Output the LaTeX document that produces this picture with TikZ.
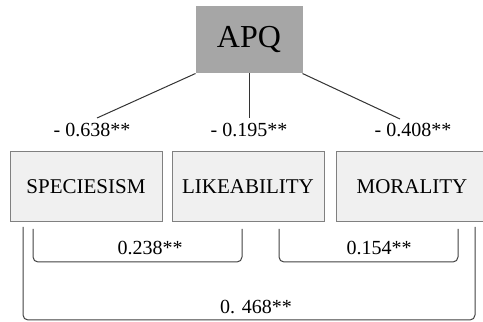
\documentclass[tikz,border=0pt]{standalone}
\usepackage{fontspec}
\setmainfont{LiberationSerif}[Extension=.ttf, UprightFont=*-Regular, BoldFont=*-Bold]
\usetikzlibrary{positioning}
\tikzset{
    apqbox/.style={draw=black!35, fill=black!35, minimum width=106pt, minimum height=66pt,
        font=\fontsize{32}{38}\selectfont},
    factor/.style={draw=black!50, fill=black!6, minimum width=152pt, minimum height=70pt,
        font=\fontsize{21}{25}\selectfont},
    coef/.style={font=\fontsize{20}{24}\selectfont},
    link/.style={draw=black!80, line width=1pt},
    bracket/.style={draw=black!75, line width=1pt, rounded corners=5pt},
}

\begin{document}
\begin{tikzpicture}[x=1pt,y=1pt,line width=1pt]
\useasboundingbox (0,0) rectangle (483,322);

\node[apqbox] (apq) at (249,282) {APQ};

\node[factor] (spec) at (86,135) {SPECIESISM};
\node[factor] (like) at (248,135) {LIKEABILITY};
\node[factor] (mor) at (412,135) {MORALITY};

% paths from APQ
\node[coef] (c1) at (92,192) {- 0.638**};
\node[coef] (c2) at (249,192) {- 0.195**};
\node[coef] (c3) at (413,192) {- 0.408**};
\coordinate (e1) at (97,204);
\coordinate (e2) at (249,204);
\coordinate (e3) at (400,203);
\draw[link] (apq.south west) -- (e1);
\draw[link] (apq.south) -- (e2);
\draw[link] (apq.south east) -- (e3);

% correlations
\coordinate (b1) at (33,93);
\coordinate (b2) at (242,93);
\coordinate (b3) at (279,93);
\coordinate (b4) at (458,93);
\coordinate (b5) at (23,95);
\coordinate (b6) at (475,95);
\draw[bracket] (b1) -- ++(0,-33) -| (b2);
\draw[bracket] (b3) -- ++(0,-33) -| (b4);
\draw[bracket] (b5) -- ++(0,-93) -| (b6);
\node[coef] (r1) at (150,74) {0.238**};
\node[coef] (r2) at (379,74) {0.154**};
\node[coef] (r3) at (256,15) {0. 468**};
\end{tikzpicture}
\end{document}
